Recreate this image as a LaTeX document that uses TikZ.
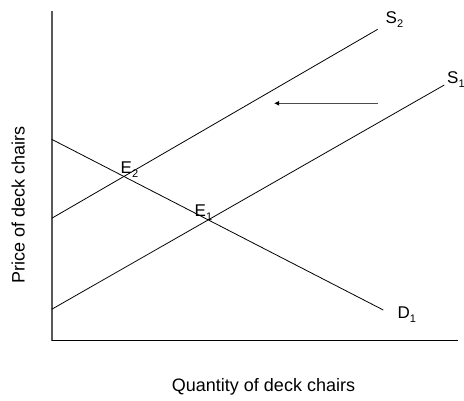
\documentclass[tikz,border=0pt]{standalone}
\usepackage{fontspec}
\setmainfont{Liberation Sans}
\usetikzlibrary{arrows.meta}
\newcommand{\lowidx}[1]{\raisebox{-4.5pt}{\fontsize{11}{11}\selectfont #1}}

\begin{document}
\begin{tikzpicture}[x=1pt,y=-1pt,
  curve/.style={line width=0.8pt},
  lbl/.style={anchor=base west,inner sep=0pt,font=\fontsize{17}{18}\selectfont}]
\useasboundingbox (0,0) rectangle (464,400);

\coordinate (ytop) at (51.7,11);
\coordinate (O) at (51.7,340.7);
\coordinate (xend) at (457.7,340.7);

\draw[line width=1.8pt, black!65] (ytop) -- (O);
\draw[line width=1.3pt] (O) -- (xend);

\coordinate (S2a) at (51.7,218.3);
\coordinate (S2b) at (377.7,29.3);
\coordinate (S1a) at (51.7,309.3);
\coordinate (S1b) at (444.3,85);
\coordinate (D1a) at (51.7,139.3);
\coordinate (D1b) at (383.3,310);

\draw[curve] (S2a) -- (S2b);
\draw[curve] (S1a) -- (S1b);
\draw[curve] (D1a) -- (D1b);

\coordinate (shiftfrom) at (377.7,103.3);
\coordinate (shiftto) at (274,103.3);
\draw[line width=1.5pt, black!70, -{Latex[length=5pt,width=5pt,black]}] (shiftfrom) -- (shiftto);

\node[lbl] (labS2) at (385.5,23.3) {S\lowidx{2}};
\node[lbl] (labS1) at (447,83.3) {S\lowidx{1}};
\node[lbl] (labD1) at (397.5,318) {D\lowidx{1}};
\node[lbl] (labE2) at (120.5,173) {E\lowidx{2}};
\node[lbl] (labE1) at (194.5,216) {E\lowidx{1}};

\node[font=\fontsize{18}{21}\selectfont] (xlab) at (263.5,386.7) {Quantity of deck chairs};
\node[font=\fontsize{18}{21}\selectfont, rotate=90] (ylab) at (18.3,205) {Price of deck chairs};

\end{tikzpicture}
\end{document}
